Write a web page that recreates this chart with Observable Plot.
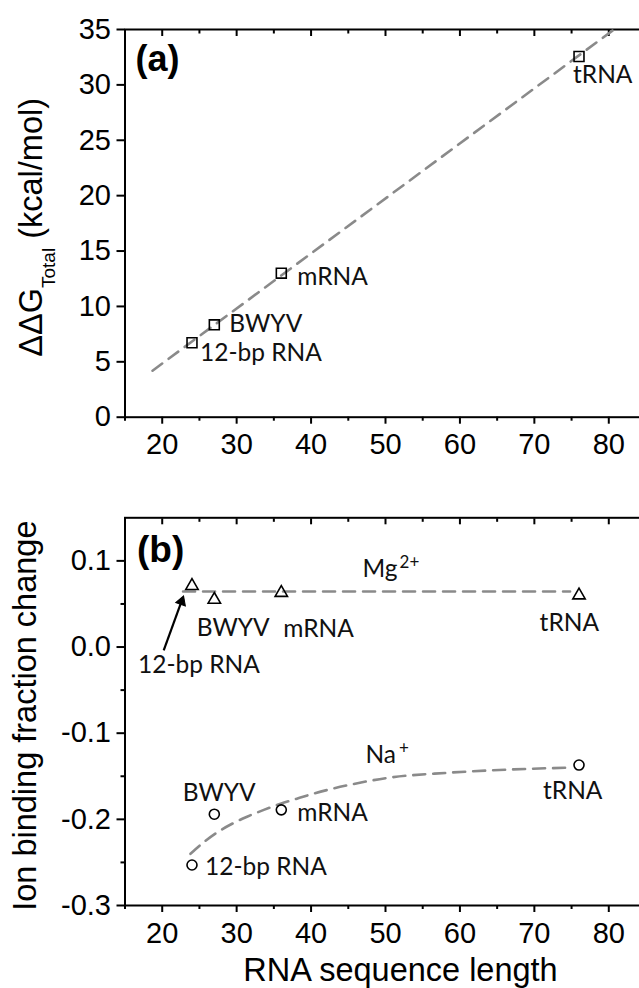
<!DOCTYPE html>
<html><head><meta charset="utf-8">
<script src="https://cdn.jsdelivr.net/npm/d3@7"></script>
<script src="https://cdn.jsdelivr.net/npm/@observablehq/plot@0.6"></script>
<style>
body{margin:0;background:#fff;}
#chart{width:639px;height:988px;overflow:hidden;background:#fff;}
#chart svg{display:block;overflow:hidden;}
</style></head><body><div id="chart"></div>
<script>
// ---------- data ----------
const rnaNames   = ["12-bp RNA", "BWYV", "mRNA", "tRNA"];
const rnaLength  = [24, 27, 36, 76];
const ddgTotal   = [6.72, 8.34, 13.0, 32.56];
const ddgFitX    = [18.7, 80.7];
const ddgFitY    = [4.2, 35.0];
const mgFraction = [0.071, 0.055, 0.063, 0.060];
const naFraction = [-0.253, -0.194, -0.189, -0.137];
const mgFitX     = [22.8, 74.8];
const mgFitY     = [0.0644, 0.0644];
const naFitX     = [23.8, 25.8, 27.4, 29.2, 31.4, 33.65, 35.9, 38.1, 40.4, 42.6, 45.7, 50.2, 58.3, 67.2, 74.9];
const naFitY     = [-0.240, -0.225, -0.215, -0.206, -0.197, -0.189, -0.182, -0.176, -0.170, -0.165, -0.159, -0.152, -0.146, -0.142, -0.140];
const ionNames   = ["Mg2+", "Na+"];
const ionLabelX  = [46.9, 47.3];
const ionLabelY  = [0.090, -0.126];
const arrowFrom  = [20.2, -0.004];
const arrowTo    = [22.8, 0.058];
const xTicks      = [20, 30, 40, 50, 60, 70, 80];
const xMinorTicks = [15, 25, 35, 45, 55, 65, 75, 85];
const yTicksA     = [0, 5, 10, 15, 20, 25, 30, 35];
const yRightA     = [5, 10, 15, 20, 25, 30];
const yTicksB     = [-0.3, -0.2, -0.1, 0.0, 0.1];
const yMinorB     = [-0.25, -0.15, -0.05, 0.05];
const yRightB     = [-0.25, -0.2, -0.15, -0.1, -0.05, 0.0, 0.05, 0.1];
const xTitle  = "RNA sequence length";
const yTitleA = "ΔΔG";
const yTitleB = "Ion binding fraction change";

// ---------- style ----------
const labelFont = "Lato, Open Sans, sans-serif";
const axisFont  = "Liberation Sans, Arial, sans-serif";
const fitStyle  = {stroke: "#8a8a8a", strokeWidth: 2.6, strokeDasharray: "12,8"};
const idx = d3.range(rnaNames.length);

function axes(yMajor, yMinor, yRight, yFmt) {
  return [
    Plot.axisX(xTicks, {anchor: "bottom", tickSize: 7, strokeWidth: 2, fill: "none"}),
    Plot.axisX(xMinorTicks, {anchor: "bottom", tickSize: 4, strokeWidth: 2, fill: "none"}),
    Plot.axisX(xTicks, {anchor: "bottom", tickSize: 0, tickPadding: 16.5, fontSize: 29, label: null, tickFormat: d => String(d)}),
    Plot.axisX(xTicks, {anchor: "top", tickSize: -6, strokeWidth: 2, fill: "none"}),
    Plot.axisX(xMinorTicks, {anchor: "top", tickSize: -3.5, strokeWidth: 2, fill: "none"}),
    Plot.axisY(yMajor, {anchor: "left", tickSize: 8, strokeWidth: 2, fill: "none"}),
    ...(yMinor.length ? [Plot.axisY(yMinor, {anchor: "left", tickSize: 4, strokeWidth: 2, fill: "none"})] : []),
    Plot.axisY(yMajor, {anchor: "left", tickSize: 0, tickPadding: 14, fontSize: 29, label: null, tickFormat: yFmt}),
    Plot.axisY(yRight, {anchor: "right", tickSize: -7, strokeWidth: 2, fill: "none"}),
    Plot.frame({strokeWidth: 2})
  ];
}

function pointLabels(xs, ys, offsets) {
  return idx.map(i => Plot.text([i], {
    x: j => xs[j], y: j => ys[j], text: j => rnaNames[j],
    dx: offsets[i][0], dy: offsets[i][1], textAnchor: "start", lineAnchor: "middle",
    fontFamily: labelFont, fontSize: 24.5, fill: "#111"
  }));
}

// ---------- panel (a) ----------
const plotA = Plot.plot({
  width: 639, height: 470,
  marginTop: 29, marginBottom: 53.3, marginLeft: 124.5, marginRight: -6.5,
  x: {domain: [15, 85]},
  y: {domain: [0, 35]},
  style: {fontFamily: axisFont, fontSize: "29px", color: "black", background: "white"},
  marks: [
    ...axes(yTicksA, [], yRightA, d => String(d)),
    Plot.line(d3.range(ddgFitX.length), {x: i => ddgFitX[i], y: i => ddgFitY[i], ...fitStyle}),
    Plot.dot(idx, {x: i => rnaLength[i], y: i => ddgTotal[i], symbol: "square", r: 5.6, stroke: "black", strokeWidth: 1.6, fill: "none"}),
    ...pointLabels(rnaLength, ddgTotal, [[8, 10], [15, -1], [16, 4], [-6, 19]]),
    Plot.text(["(a)"], {frameAnchor: "top-left", dx: 10.5, dy: 30, textAnchor: "start", lineAnchor: "middle", fontWeight: "bold", fontSize: 36}),
    Plot.text([yTitleA], {frameAnchor: "left", rotate: -90, dx: -93, dy: 4, textAnchor: "middle", lineAnchor: "middle", fontSize: 32.5})
  ]
});

// ---------- panel (b) ----------
const mgOff = [[-54, 79], [-17.6, 29], [2, 36], [-39.4, 27.7]];
const naOff = [[13, 2], [-31.6, -20.6], [16, 3], [-36, 26]];
const plotB = Plot.plot({
  width: 639, height: 518,
  marginTop: 47.3, marginBottom: 83, marginLeft: 124.5, marginRight: -6.5,
  x: {domain: [15, 85]},
  y: {domain: [-0.3, 0.15]},
  style: {fontFamily: axisFont, fontSize: "29px", color: "black", background: "white"},
  marks: [
    ...axes(yTicksB, yMinorB, yRightB, d => d.toFixed(1)),
    Plot.line(d3.range(mgFitX.length), {x: i => mgFitX[i], y: i => mgFitY[i], ...fitStyle}),
    Plot.line(d3.range(naFitX.length), {x: i => naFitX[i], y: i => naFitY[i], curve: "monotone-x", ...fitStyle}),
    Plot.dot(idx, {x: i => rnaLength[i], y: i => mgFraction[i], symbol: "triangle", r: 4.6, stroke: "black", strokeWidth: 1.6, fill: "none"}),
    Plot.dot(idx, {x: i => rnaLength[i], y: i => naFraction[i], symbol: "circle", r: 5, stroke: "black", strokeWidth: 1.6, fill: "none"}),
    ...pointLabels(rnaLength, mgFraction, mgOff),
    ...pointLabels(rnaLength, naFraction, naOff),
    // annotation arrow: shaft plus a solid head
    Plot.link([0], {x1: () => arrowFrom[0], y1: () => arrowFrom[1], x2: () => arrowTo[0], y2: () => arrowTo[1], stroke: "black", strokeWidth: 2.2}),
    Plot.dot([0], {x: () => arrowTo[0], y: () => arrowTo[1], dx: -1.5, dy: 4.5, symbol: "triangle", r: 3.8, rotate: 20, fill: "black", stroke: "black", strokeWidth: 1}),
    Plot.text(d3.range(ionNames.length), {x: i => ionLabelX[i], y: i => ionLabelY[i], text: i => ionNames[i], textAnchor: "start", lineAnchor: "middle", fontFamily: labelFont, fontSize: 24.5, fill: "#111"}),
    Plot.text(["(b)"], {frameAnchor: "top-left", dx: 12, dy: 32, textAnchor: "start", lineAnchor: "middle", fontWeight: "bold", fontSize: 37}),
    Plot.text([yTitleB], {frameAnchor: "left", rotate: -90, dx: -99.7, dy: 4, textAnchor: "middle", lineAnchor: "middle", fontSize: 32.5}),
    Plot.text([xTitle], {frameAnchor: "bottom", dx: 15, dy: 65, textAnchor: "middle", lineAnchor: "middle", fontSize: 32.5})
  ]
});

// ---------- sub/superscripts as real text ----------
function rich(svg, full, build) {
  d3.select(svg).selectAll("text").filter(function () { return this.textContent === full; })
    .each(function () { const t = d3.select(this); t.text(null); build(t); });
}
rich(plotA, yTitleA, t => {
  t.append("tspan").text("ΔΔG");
  t.append("tspan").attr("font-size", "19px").attr("dy", 13).text("Total");
  t.append("tspan").attr("dy", -13).text(" (kcal/mol)");
});
rich(plotB, "Mg2+", t => {
  t.append("tspan").text("Mg");
  t.append("tspan").attr("dx", 2).attr("font-size", "17px").attr("dy", -9).text("2+");
});
rich(plotB, "Na+", t => {
  t.append("tspan").text("Na");
  t.append("tspan").attr("dx", 3).attr("font-size", "17px").attr("dy", -9).text("+");
});

const chart = document.getElementById("chart");
chart.appendChild(plotA);
chart.appendChild(plotB);
</script>
</body></html>
